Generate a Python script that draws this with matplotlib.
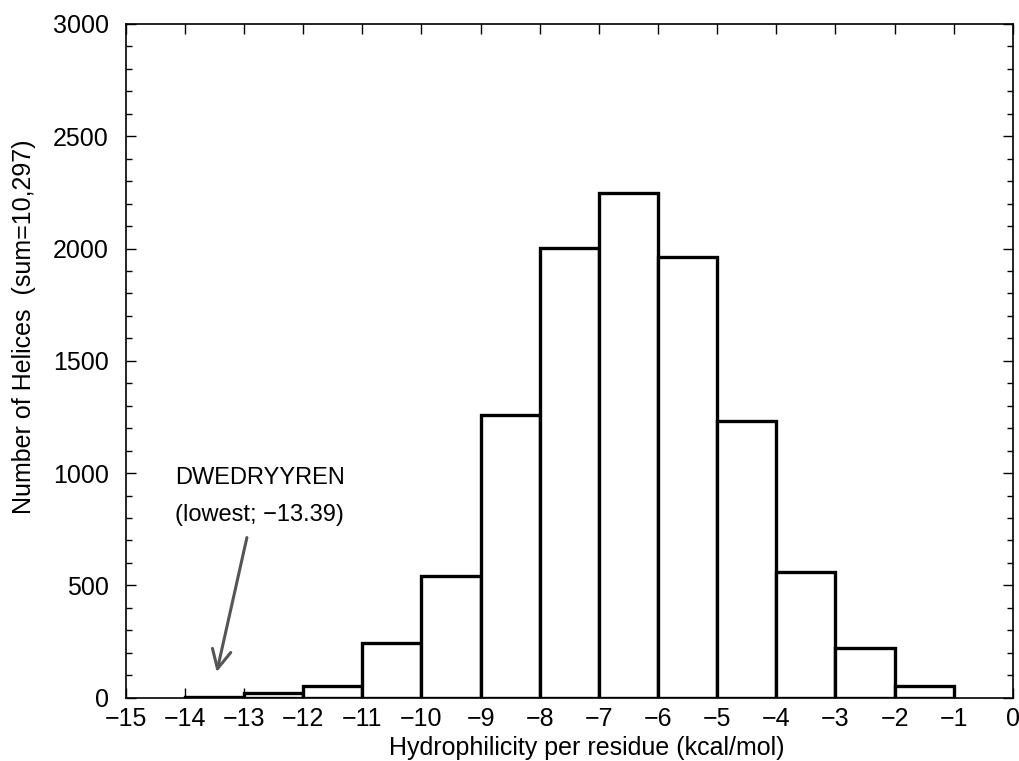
import matplotlib
matplotlib.use("Agg")
import matplotlib.pyplot as plt
from matplotlib.ticker import MultipleLocator

# histogram of hydrophilicity per residue, one bin per kcal/mol
bin_left = [-14, -13, -12, -11, -10, -9, -8, -7, -6, -5, -4, -3, -2]
counts = [5, 22, 50, 244, 543, 1260, 2002, 2249, 1964, 1233, 559, 222, 52]

x_label = "Hydrophilicity per residue (kcal/mol)"
y_label = "Number of Helices  (sum=10,297)"
note_text = "DWEDRYYREN\n(lowest; \u221213.39)"
note_xy = (-12.73, 895)
arrow_tail = (-12.95, 713)
arrow_head = (-13.46, 114)

plt.rcParams['font.family'] = ['Liberation Sans', 'DejaVu Sans']
plt.rcParams['axes.unicode_minus'] = True

fig = plt.figure(figsize=(10.19, 7.61), dpi=100)
ax = fig.add_axes([0.1233, 0.0832, 0.8707, 0.8853])

ax.bar(bin_left, counts, width=1.0, align='edge', facecolor='white',
       edgecolor='black', linewidth=2.4, zorder=2)

ax.set_xlim(-15, 0)
ax.set_ylim(0, 3000)
ax.xaxis.set_major_locator(MultipleLocator(1))
ax.yaxis.set_major_locator(MultipleLocator(500))
ax.yaxis.set_minor_locator(MultipleLocator(100))

ax.tick_params(which='both', direction='in', top=True, right=True,
               labelsize=18, width=1.0)
ax.tick_params(which='major', length=7)
ax.tick_params(which='minor', length=4)
ax.tick_params(axis='x', pad=7)
ax.tick_params(axis='y', pad=12)
for sp in ax.spines.values():
    sp.set_linewidth(1.2)

ax.set_xlabel(x_label, fontsize=18)
ax.set_ylabel(y_label, fontsize=18)
ax.xaxis.set_label_coords(0.52, -0.075)
ax.xaxis.label.set_va('center')
ax.yaxis.set_label_coords(-0.115, 0.55)
ax.yaxis.label.set_va('center')

ax.text(note_xy[0], note_xy[1], note_text, ha='center', va='center',
        fontsize=17, linespacing=1.9)
ax.annotate("", xy=arrow_head, xytext=arrow_tail,
            arrowprops=dict(arrowstyle='->,head_length=0.9,head_width=0.45',
                            color='#555555', lw=2.2, shrinkA=0, shrinkB=0,
                            mutation_scale=15))

fig.savefig("out.png", dpi=100)
